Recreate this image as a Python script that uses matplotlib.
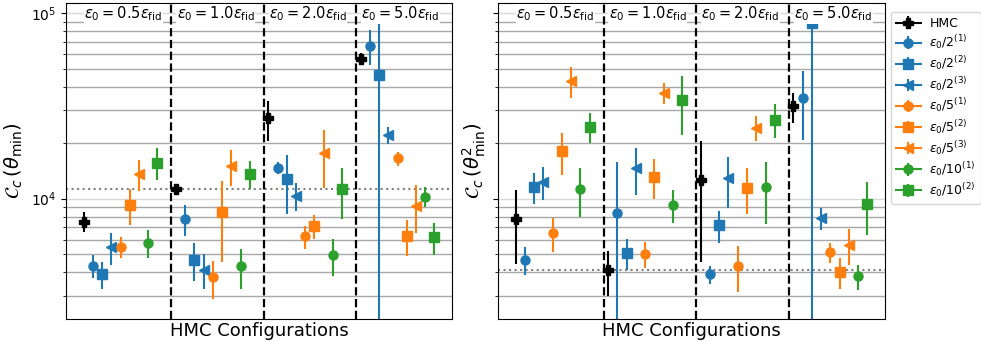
import matplotlib
matplotlib.use("Agg")
import matplotlib.pyplot as plt
import numpy as np

# Step-size settings of the HMC runs
eps_labels = [r"$\varepsilon_0 = 0.5\varepsilon_{\rm fid}$",
              r"$\varepsilon_0 = 1.0\varepsilon_{\rm fid}$",
              r"$\varepsilon_0 = 2.0\varepsilon_{\rm fid}$",
              r"$\varepsilon_0 = 5.0\varepsilon_{\rm fid}$"]

series_labels = ["HMC",
                 r"$\varepsilon_0/2^{(1)}$", r"$\varepsilon_0/2^{(2)}$", r"$\varepsilon_0/2^{(3)}$",
                 r"$\varepsilon_0/5^{(1)}$", r"$\varepsilon_0/5^{(2)}$", r"$\varepsilon_0/5^{(3)}$",
                 r"$\varepsilon_0/10^{(1)}$", r"$\varepsilon_0/10^{(2)}$"]
series_colors = ["k", "C0", "C0", "C0", "C1", "C1", "C1", "C2", "C2"]
series_markers = ["P", "o", "s", "<", "o", "s", "<", "o", "s"]

# C_c(theta_min): rows = step-size setting, columns = series (HMC first)
cc_min = [
    [7500, 4330, 3900, 5480, 5500, 9230, 13550, 5760, 15670],
    [11290, 7780, 4680, 4120, 3760, 8490, 14970, 4310, 13560],
    [27160, 14730, 12790, 10350, 6255, 7135, 17530, 4960, 11210],
    [57000, 67000, 46500, 22000, 16530, 6280, 9150, 10230, 6180],
]
cc_min_err = [
    [925, 610, 640, 1070, 700, 2030, 2525, 985, 3120],
    [750, 1500, 1090, 880, 875, 3960, 3260, 1050, 2330],
    [6590, 1060, 4515, 1780, 875, 1040, 6085, 1115, 3410],
    [4325, 14170, 100000, 2345, 1435, 1370, 2640, 1265, 1220],
]

# C_c(theta^2_min)
cc_min2 = [
    [7780, 4680, 11540, 12320, 6490, 18040, 42990, 11290, 24500],
    [4100, 8320, 5065, 14655, 5020, 13170, 37380, 9260, 33960],
    [12540, 3917, 7170, 12850, 4326, 11430, 24080, 11490, 26730],
    [31520, 34940, 88300, 7880, 5130, 4030, 5614, 3807, 9340],
]
cc_min2_err = [
    [3320, 800, 2190, 2480, 1360, 4675, 8230, 3310, 4545],
    [1120, 7420, 965, 4170, 810, 3245, 4955, 1830, 11975],
    [7975, 433, 1430, 3965, 1195, 3210, 3680, 4190, 5590],
    [5790, 14130, 150000, 1070, 615, 770, 1215, 578, 2945],
]

fig = plt.figure(figsize=(9.81, 3.48), dpi=100)
ax1 = fig.add_axes([0.0673, 0.0830, 0.3935, 0.9070])
ax2 = fig.add_axes([0.5076, 0.0830, 0.3945, 0.9070], sharey=ax1)

n_series = len(series_labels)
group_step = n_series + 1


def draw_panel(ax, values, errors, ylabel):
    for g, (vals, errs) in enumerate(zip(values, errors)):
        for i in range(n_series):
            x = g * group_step + i
            ax.errorbar(x, vals[i], yerr=errs[i], marker=series_markers[i],
                        color=series_colors[i], markersize=6.5, elinewidth=1.5,
                        label=series_labels[i] if g == 0 else None)
    # fiducial HMC reference level
    ax.axhline(values[1][0], color="gray", ls=":", lw=1.5, zorder=0.5)
    for g in range(1, len(values)):
        ax.axvline(g * group_step - 0.5, color="k", ls="--", lw=1.6)
    ax.set_yscale("log")
    ax.set_xlim(-1.9, 3 * group_step + n_series - 1 + 1.9)
    ax.set_ylim(2240, 113000)
    ax.set_xticks([])
    ax.grid(which="minor", axis="y", color="#a8a8a8", lw=1.0, zorder=0)
    ax.grid(which="major", axis="y", color="#d8d8d8", lw=1.0, zorder=0)
    ax.set_axisbelow(True)
    for g, lab in enumerate(eps_labels):
        ax.text(g * group_step + 4.3, 0.967, lab,
                transform=ax.get_xaxis_transform(), ha="center", va="center",
                fontsize=10.5, bbox=dict(facecolor="white", edgecolor="none", pad=0.3))
    ax.set_xlabel("HMC Configurations", fontsize=13, labelpad=2)
    ax.set_ylabel(ylabel, fontsize=14)


draw_panel(ax1, cc_min, cc_min_err, r"$\mathcal{C}_c\,(\theta_{\min})$")
draw_panel(ax2, cc_min2, cc_min2_err, r"$\mathcal{C}_c\,(\theta^2_{\min})$")
ax2.tick_params(axis="y", which="both", labelleft=False)

ax2.legend(loc="upper left", bbox_to_anchor=(1.005, 0.985), fontsize=9,
           borderaxespad=0.3, labelspacing=0.25, handletextpad=0.7)

fig.savefig("out.png", dpi=100)
